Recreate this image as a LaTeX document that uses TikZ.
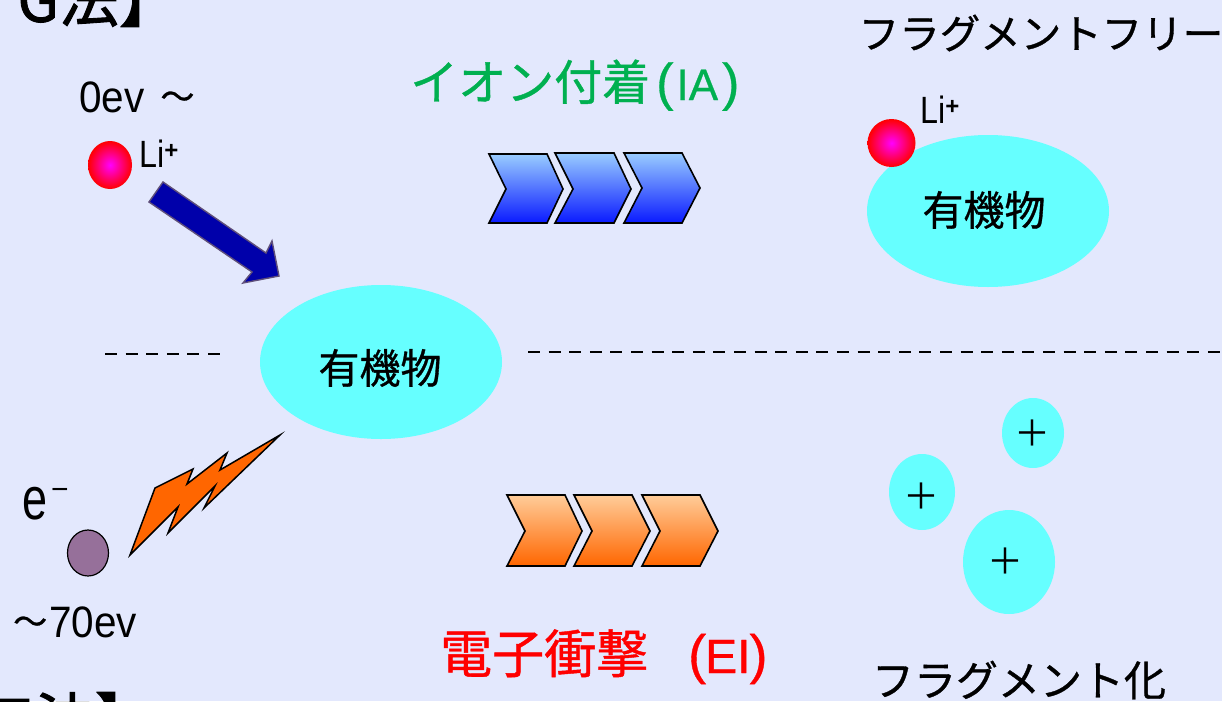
\documentclass[tikz,border=0pt]{standalone}
\usepackage{fontspec}
\setmainfont{Noto Sans CJK JP}
\newfontfamily\jpfont[FakeBold=0.8]{Noto Sans CJK JP}
\newfontfamily\jpheavy[FakeBold=1.5]{Noto Sans CJK JP}
\newfontfamily\latinfont{Liberation Sans}
\newfontfamily\latinbold[FakeBold=0.6]{Liberation Sans}
\definecolor{bgblue}{HTML}{E3E8FD}
\definecolor{cyanblob}{HTML}{66FFFF}
\definecolor{arrowblue}{HTML}{0000AA}
\definecolor{arrowedge}{HTML}{5F4F7A}
\definecolor{bolt}{HTML}{FF6600}
\definecolor{electron}{HTML}{96709A}
\definecolor{iagreen}{HTML}{00B050}
\definecolor{chevtopblue}{HTML}{99CCFF}
\definecolor{chevbotblue}{HTML}{0A1AFF}
\definecolor{chevtoporange}{HTML}{FFCC99}
\newcommand{\sz}[1]{\fontsize{#1}{#1}\selectfont}
\newcommand{\narrow}[1]{\scalebox{.92}[1]{#1}}
\newcommand{\liplus}{\scalebox{.85}[1]{\latinfont\sz{38}Li}\raisebox{9pt}{\latinfont\sz{24}\bfseries +}}
\tikzset{
  blob/.style={fill=cyanblob,draw=none},
  liball/.style={draw=none,inner color=magenta,outer color=red},
  bluechev/.style={draw=black,line width=1.6pt,top color=chevtopblue,bottom color=chevbotblue},
  orangechev/.style={draw=black,line width=1.6pt,top color=chevtoporange,bottom color=bolt},
  jp/.style={inner sep=0pt,anchor=center,black},
  lat/.style={inner sep=0pt,anchor=base west,black,font=\latinfont\sz{44}},
  dashline/.style={line width=2pt,dash pattern=on 12pt off 8.6pt},
  plusmark/.style={inner sep=0pt,anchor=center,black,font=\rmfamily\sz{36}},
}
\begin{document}
\begin{tikzpicture}[x=1pt,y=-1pt]
\useasboundingbox (0,0) rectangle (1222,701);
\clip (0,0) rectangle (1222,701);
\fill[bgblue] (0,0) rectangle (1222,701);
% cropped headings
\node[jp,anchor=east,font=\jpheavy\sz{60}] (headtop) at (179,-1) {G法】};
\node[jp,anchor=east,font=\jpheavy\sz{60}] (headbottom) at (155,720) {工法】};
% dashed line
\draw[dashline] (105,354) -- (220,354);
\draw[dashline] (528,352) -- (1222,352);
% Li+ left
\node[lat] (zeroev) at (79,112) {\narrow{0ev}\hspace{16pt}\raisebox{3pt}{\jpfont\sz{34}～}};
\path[liball] (110,165) ellipse (22 and 24);
\node[lat] (lileft) at (139,167) {\liplus};
\draw[arrowedge,fill=arrowblue,line width=1.4pt,line join=miter]
  (163,182) -- (266,253) -- (272,241) -- (279,276) -- (243,283) -- (252,272) -- (149,202) -- cycle;
% centre
\path[blob] (381,362) ellipse (121 and 77);
\node[jp,font=\jpfont\sz{41}] (centre) at (380,368) {有機物};
% electron
\node[lat] (elec) at (22,519) {\scalebox{.75}[1]{\latinfont\sz{60}e}\hspace{4pt}\raisebox{20pt}{\latinfont\sz{30}−}};
\draw[black,fill=electron,line width=1.2pt] (88,553) ellipse (20.5 and 23);
\node[lat] (seventy) at (13,637) {\raisebox{3pt}{\jpfont\sz{34}～}\hspace{2pt}\narrow{70ev}};
\draw[black,fill=bolt,line width=1.5pt,line join=miter]
  (130,555) -- (155,488) -- (193,469) -- (187,484) -- (227,453) -- (220,470) -- (280,435)
  -- (204,508) -- (215,486) -- (168,533) -- (178,507) -- cycle;
% headings
\node[jp,anchor=base west,font=\jpfont\sz{48},text=iagreen] (ia) at (410,100) {イオン付着\hspace{6pt}{\latinbold\sz{52}(}\hspace{3pt}{\latinbold\sz{44}IA}\hspace{4pt}{\latinbold\sz{52})}};
\node[jp,anchor=base west,font=\jpfont\sz{52},text=red] (ei) at (440,673) {電子衝撃\hspace{40pt}{\latinbold\sz{54}(}\hspace{-1pt}{\latinbold\sz{48}EI}\hspace{-1pt}{\latinbold\sz{54})}};
% blue chevrons
\path[bluechev] (489,154) -- (547,154) -- (563,189) -- (547,223) -- (489,223) -- (506,189) -- cycle;
\path[bluechev] (555,153) -- (614,153) -- (631,189) -- (614,223) -- (555,223) -- (573,189) -- cycle;
\path[bluechev] (624,153) -- (682,153) -- (700,188) -- (682,223) -- (624,223) -- (642,188) -- cycle;
% orange chevrons
\path[orangechev] (507,495) -- (565,495) -- (582,531) -- (565,566) -- (507,566) -- (525,531) -- cycle;
\path[orangechev] (574,495) -- (632,495) -- (650,531) -- (632,566) -- (574,566) -- (592,531) -- cycle;
\path[orangechev] (642,495) -- (700,495) -- (718,531) -- (700,566) -- (642,566) -- (660,531) -- cycle;
% right top
\node[jp,font=\jpfont\sz{40.5}] (free) at (1041,33) {フラグメントフリー};
\path[blob] (988,211) ellipse (121 and 76);
\path[liball] (891.5,143) ellipse (24 and 24);
\node[lat] (liright) at (920,123) {\liplus};
\node[jp,font=\jpfont\sz{41}] (topblob) at (984,210) {有機物};
% fragments
\path[blob] (1033,433) ellipse (31 and 35);
\path[blob] (922,492) ellipse (33 and 38);
\path[blob] (1009,562) ellipse (46 and 52);
\node[plusmark] (p1) at (1032,433) {＋};
\node[plusmark] (p2) at (921,496) {＋};
\node[plusmark] (p3) at (1005,561) {＋};
\node[jp,font=\jpfont\sz{42}] (frag) at (1019,680) {フラグメント化};
\end{tikzpicture}
\end{document}
